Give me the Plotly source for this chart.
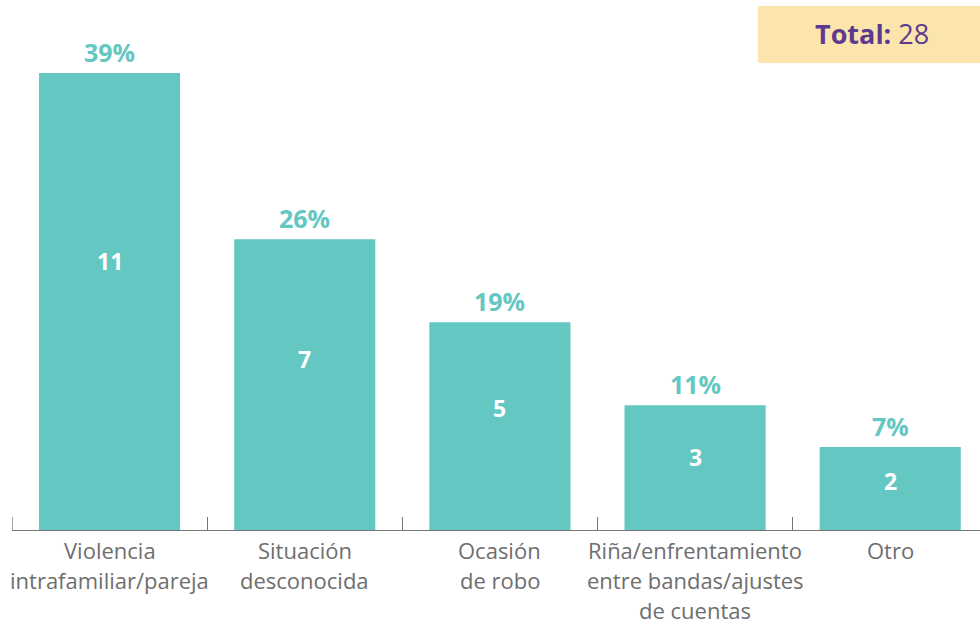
import plotly.graph_objects as go

categories = ["Violencia intrafamiliar/pareja", "Situación desconocida", "Ocasión de robo",
              "Riña/enfrentamiento entre bandas/ajustes de cuentas", "Otro"]
label_lines = [["Violencia", "intrafamiliar/pareja"],
               ["Situación", "desconocida"],
               ["Ocasión", "de robo"],
               ["Riña/enfrentamiento", "entre bandas/ajustes", "de cuentas"],
               ["Otro"]]
values = [11, 7, 5, 3, 2]
percents = ["39%", "26%", "19%", "11%", "7%"]
total = 28

TEAL = "#64C7C2"
GREY = "#6E6E6E"
PURPLE = "#5B3A8F"
AXIS = "#777777"
FONT = "Open Sans"

fig = go.Figure()
fig.add_trace(go.Bar(x=categories, y=values, marker=dict(color=TEAL, line=dict(width=0)),
                     width=0.723, hoverinfo="skip"))

ann = []
for c, v, p in zip(categories, values, percents):
    ann.append(dict(x=c, y=v, xref="x", yref="y", text=f"<b>{p}</b>", showarrow=False,
                    yanchor="middle", yshift=21, font=dict(family=FONT, size=25, color=TEAL)))
    ann.append(dict(x=c, y=v * 0.588, xref="x", yref="y", text=f"<b>{v}</b>", showarrow=False,
                    yanchor="middle", font=dict(family=FONT, size=23, color="white")))
for c, lines in zip(categories, label_lines):
    for i, line in enumerate(lines):
        ann.append(dict(x=c, y=0, xref="x", yref="paper", text=line, showarrow=False,
                        yanchor="middle", yshift=-(20 + 30 * i), borderpad=0,
                        font=dict(family=FONT, size=22, color=GREY)))
ann.append(dict(x=0.888, y=0.936, xref="paper", yref="paper",
                text=f"<b>Total:</b> {total}", showarrow=False, xanchor="center", yanchor="middle",
                font=dict(family=FONT, size=27, color=PURPLE)))

fig.update_layout(
    width=980, height=625,
    margin=dict(l=12, r=0, t=0, b=95),
    paper_bgcolor="white", plot_bgcolor="white",
    showlegend=False,
    annotations=ann,
    shapes=[
        dict(type="rect", xref="paper", yref="paper", x0=0.7707, x1=1.0, y0=0.881, y1=0.9887,
             fillcolor="#FCE5AC", line=dict(width=0), layer="below"),
        dict(type="line", xref="x", yref="paper", x0=-0.5, x1=-0.5, ysizemode="pixel", yanchor=0,
             y0=0, y1=13, line=dict(color=AXIS, width=1.3)),
    ],
    xaxis=dict(type="category", range=[-0.5, 4.46], showticklabels=False, ticks="inside",
               tickson="boundaries", ticklen=13, tickcolor=AXIS, tickwidth=1.3,
               showline=True, linecolor=AXIS, linewidth=1.3, showgrid=False, zeroline=False,
               fixedrange=True),
    yaxis=dict(range=[0, 12.755], visible=False, showgrid=False, zeroline=False, fixedrange=True),
)

fig.write_html("out.html", config={"displayModeBar": False},
               post_script="document.body.style.margin='0';document.body.style.overflow='hidden';")
